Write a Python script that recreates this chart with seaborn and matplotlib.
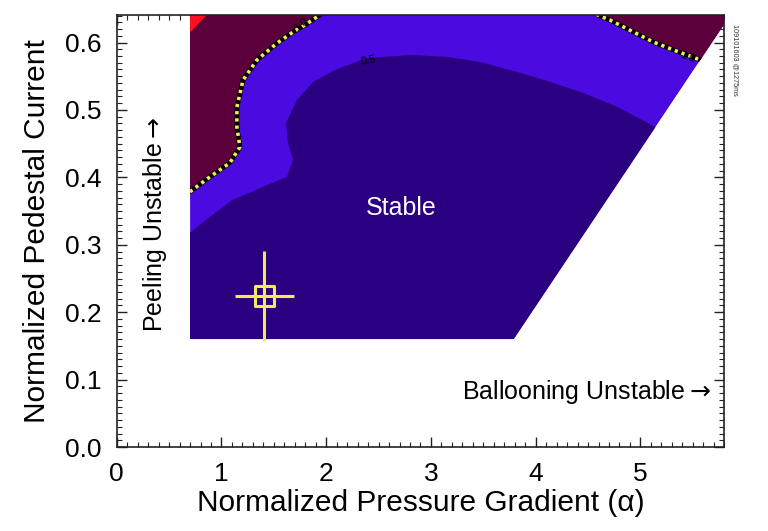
import numpy as np
import pandas as pd
import matplotlib
matplotlib.use("Agg")
import matplotlib.pyplot as plt
from matplotlib.patches import Polygon
from matplotlib.ticker import MultipleLocator
import seaborn as sns

# ---------------- data ----------------
# computed stability domain (alpha, j_ped)
domain_x = [0.70, 3.79, 5.80, 5.80, 0.70]
domain_y = [0.16, 0.16, 0.627, 0.70, 0.70]

# contour growth-rate = 1.0 (left / peeling side)
c10_left_x = [0.698, 0.889, 1.080, 1.176, 1.147, 1.147, 1.205, 1.338, 1.530, 1.683, 1.797, 1.941, 1.98]
c10_left_y = [0.3785, 0.4007, 0.4215, 0.445, 0.4748, 0.504, 0.544, 0.574, 0.599, 0.6156, 0.626, 0.641, 0.66]

# contour growth-rate = 1.0 (right / ballooning side)
c10_right_x = [4.50, 4.589, 4.713, 4.933, 5.124, 5.315, 5.574]
c10_right_y = [0.66, 0.641, 0.633, 0.6156, 0.6007, 0.589, 0.574]

# contour growth-rate = 0.5
c05_x = [0.698, 0.889, 1.109, 1.396, 1.625, 1.683, 1.635, 1.616, 1.721, 1.874, 2.084,
         2.390, 2.830, 3.155, 3.470, 3.824, 4.140, 4.455, 4.780, 5.143]
c05_y = [0.3178, 0.3415, 0.3667, 0.3859, 0.4007, 0.4259, 0.4511, 0.4807, 0.5148, 0.5415, 0.5593,
         0.5770, 0.5815, 0.5785, 0.5711, 0.5563, 0.5415, 0.5252, 0.5044, 0.4748]

# highest growth-rate patch (top-left corner)
red_x = [0.70, 0.78, 0.86, 0.70]
red_y = [0.615, 0.628, 0.641, 0.641]

# experimental point
exp_alpha, exp_alpha_err = 1.41, 0.28
exp_j, exp_j_err = 0.224, 0.067

xticks = [0, 1, 2, 3, 4, 5]
yticks = [0.0, 0.1, 0.2, 0.3, 0.4, 0.5, 0.6]

# ---------------- style ----------------
sns.set_style("ticks")
plt.rcParams['font.family'] = ['Liberation Sans', 'DejaVu Sans']
plt.rcParams['text.color'] = 'black'
plt.rcParams['axes.labelcolor'] = 'black'
plt.rcParams['mathtext.fontset'] = 'dejavusans'

col_low = "#2a0080"     # < 0.5
col_mid = "#4a0ae0"     # 0.5 - 1.0
col_high = "#5c003c"    # > 1.0
col_top = "#ff1020"
yellow = "#f2ea5a"

fig = plt.figure(figsize=(7.68, 5.31), dpi=100)
ax = fig.add_axes([0.152, 0.158, 0.791, 0.814])
ax.set_xlim(0, 5.80)
ax.set_ylim(0, 0.641)

clip = Polygon(np.column_stack([domain_x, domain_y]), closed=True,
               transform=ax.transData, facecolor="none", edgecolor="none")
ax.add_patch(clip)

def fill(xs, ys, color, z):
    p = ax.fill(xs, ys, color=color, lw=0, zorder=z)[0]
    p.set_clip_path(clip)

# base (0.5 - 1.0)
fill(domain_x, domain_y, col_mid, 1)
# stable (< 0.5)
fill(c05_x + [5.50, 3.79, 0.70], c05_y + [0.30, 0.16, 0.16], col_low, 2)
# > 1.0 left
fill(c10_left_x + [0.70], c10_left_y + [0.66], col_high, 3)
# > 1.0 right
fill(c10_right_x + [5.90, 5.90], c10_right_y + [0.574, 0.66], col_high, 3)
# highest
fill(red_x, red_y, col_top, 4)

# contour lines of growth rate 1.0 (black with yellow dots)
for cx, cy in [(c10_left_x, c10_left_y), (c10_right_x, c10_right_y)]:
    df = pd.DataFrame({"x": cx, "y": cy})
    sns.lineplot(data=df, x="x", y="y", sort=False, ax=ax, color="black",
                 lw=3.4, zorder=5, estimator=None)
    ax.lines[-1].set_clip_path(clip)
    sns.lineplot(data=df, x="x", y="y", sort=False, ax=ax, color=yellow,
                 lw=2.6, zorder=6, estimator=None, linestyle=(0, (0.9, 1.1)))
    ax.lines[-1].set_clip_path(clip)

ax.text(1.76, 0.627, "1.0", rotation=40, fontsize=8, color="black",
        ha="center", va="center", zorder=7)
ax.text(5.45, 0.579, "1.0", rotation=-22, fontsize=8, color="black",
        ha="center", va="center", zorder=7)
ax.text(2.40, 0.573, "0.5", rotation=12, fontsize=8, color="black",
        ha="center", va="center", zorder=7)

# experimental point
ax.errorbar([exp_alpha], [exp_j], xerr=[exp_alpha_err], yerr=[exp_j_err],
            fmt="none", ecolor=yellow, elinewidth=2.2, capsize=0, zorder=8)
sns.scatterplot(x=[exp_alpha], y=[exp_j], ax=ax, marker="s", s=200,
                facecolor="none", edgecolor=yellow, linewidth=2.2, zorder=9)

# annotations
ax.text(2.72, 0.354, "Stable", color="white", fontsize=18, ha="center",
        va="center", zorder=10)
ax.text(0.365, 0.330, "Peeling Unstable$\\rightarrow$", rotation=90, fontsize=18,
        ha="center", va="center")
ax.text(5.67, 0.082, "Ballooning Unstable$\\rightarrow$", fontsize=18,
        ha="right", va="center")
fig.text(0.957, 0.888, "109101603 @1275ms", rotation=-90, fontsize=5.2,
         color="#333333", ha="center", va="center")

# axes
ax.set_xticks(xticks)
ax.set_yticks(yticks)
ax.set_yticklabels([f"{v:.1f}" for v in yticks])
ax.xaxis.set_minor_locator(MultipleLocator(0.1))
ax.yaxis.set_minor_locator(MultipleLocator(0.01))
ax.tick_params(which="both", direction="in", top=True, right=True,
               colors="#222222", labelcolor="black")
ax.tick_params(which="major", length=7, width=1.0, labelsize=19)
ax.tick_params(axis="y", which="major", pad=11)
ax.tick_params(axis="x", which="major", pad=11)
ax.tick_params(which="minor", length=3.5, width=0.8)
for s in ax.spines.values():
    s.set_linewidth(1.2)
    s.set_color("#222222")
    s.set_zorder(12)

ax.set_xlabel("Normalized Pressure Gradient (\u03b1)", fontsize=21.5, labelpad=2)
ax.set_ylabel("Normalized Pedestal Current", fontsize=21.5, labelpad=10)

fig.savefig("out.png", dpi=100)
